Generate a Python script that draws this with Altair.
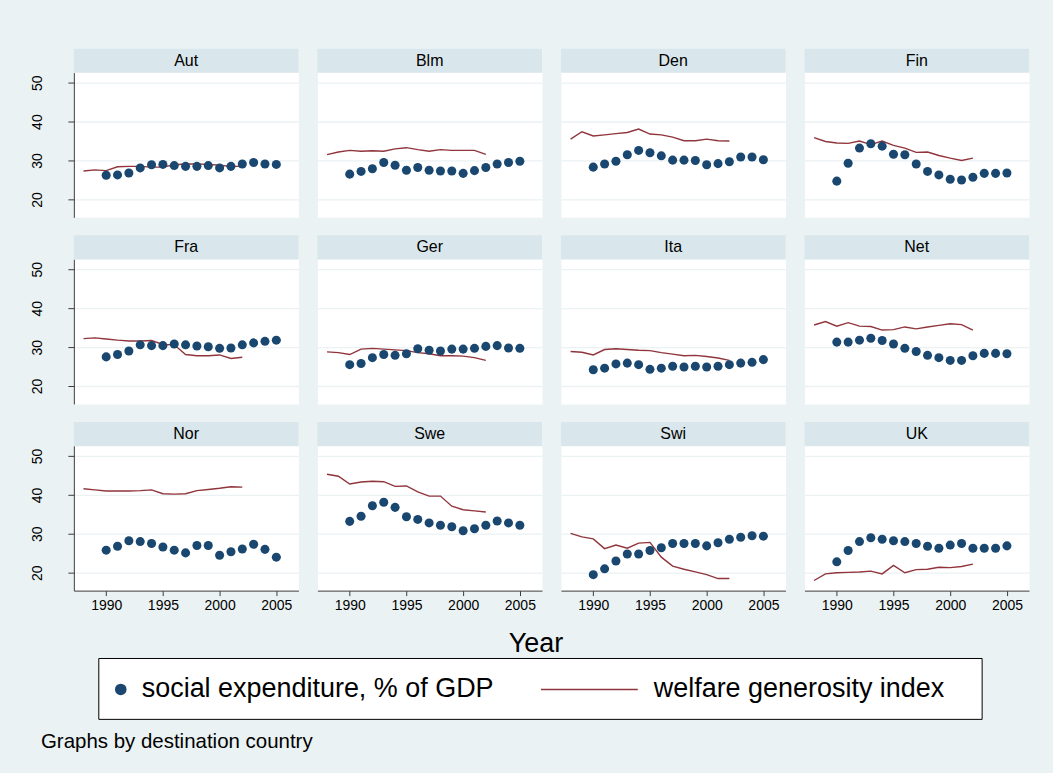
import altair as alt
import pandas as pd

# ---- data -------------------------------------------------------------
countries = ["Aut", "Blm", "Den", "Fin", "Fra", "Ger", "Ita", "Net",
             "Nor", "Swe", "Swi", "UK"]

years_social = [1990, 1991, 1992, 1993, 1994, 1995, 1996, 1997,
                1998, 1999, 2000, 2001, 2002, 2003, 2004, 2005]
years_welfare = [1988, 1989, 1990, 1991, 1992, 1993, 1994, 1995,
                 1996, 1997, 1998, 1999, 2000, 2001, 2002]

# social expenditure, % of GDP (1990-2005)
se_aut = [26.2, 26.3, 26.8, 28.1, 28.9, 29.0, 28.7, 28.5, 28.5, 28.7, 28.1, 28.5, 29.1, 29.5, 29.1, 29.0]
se_blm = [26.5, 27.2, 27.9, 29.5, 28.8, 27.5, 28.2, 27.5, 27.3, 27.3, 26.7, 27.4, 28.2, 29.1, 29.5, 29.8]
se_den = [28.3, 29.1, 29.8, 31.5, 32.6, 32.0, 31.2, 30.1, 30.1, 30.0, 28.9, 29.2, 29.7, 30.9, 30.9, 30.2]
se_fin = [24.7, 29.3, 33.2, 34.3, 33.7, 31.6, 31.5, 29.1, 27.2, 26.3, 25.2, 25.0, 25.7, 26.7, 26.7, 26.8]
se_fra = [27.5, 28.1, 29.0, 30.6, 30.4, 30.4, 30.8, 30.6, 30.3, 30.1, 29.7, 29.8, 30.6, 31.1, 31.5, 31.8]
se_ger = [25.5, 25.8, 27.3, 28.1, 27.9, 28.3, 29.6, 29.2, 29.0, 29.5, 29.5, 29.7, 30.2, 30.4, 29.8, 29.7]
se_ita = [24.2, 24.6, 25.7, 25.9, 25.5, 24.3, 24.6, 25.1, 24.9, 25.1, 24.9, 25.1, 25.5, 25.9, 26.1, 26.8]
se_net = [31.3, 31.3, 31.8, 32.3, 31.7, 30.8, 29.7, 28.9, 27.9, 27.3, 26.6, 26.6, 27.8, 28.4, 28.4, 28.3]
se_nor = [25.8, 26.8, 28.2, 28.0, 27.5, 26.6, 25.8, 25.1, 27.0, 27.0, 24.5, 25.4, 26.1, 27.3, 26.0, 24.0]
se_swe = [33.2, 34.5, 37.2, 38.1, 36.8, 34.4, 33.7, 32.8, 32.2, 31.8, 30.8, 31.3, 32.2, 33.3, 32.8, 32.2]
se_swi = [19.5, 21.0, 23.0, 24.8, 24.8, 25.7, 26.4, 27.5, 27.5, 27.5, 26.9, 27.7, 28.6, 29.1, 29.5, 29.4]
se_uk = [22.8, 25.7, 28.0, 29.0, 28.6, 28.2, 28.0, 27.5, 26.8, 26.3, 27.1, 27.5, 26.3, 26.3, 26.3, 26.9]

# welfare generosity index (1988-2002)
wg_aut = [27.3, 27.6, 27.4, 28.4, 28.5, 28.5, 28.3, 28.3, 28.9, 29.1, 29.1, 29.0, 28.8, 28.5, 28.5]
wg_blm = [31.5, 32.2, 32.6, 32.4, 32.5, 32.4, 33.0, 33.3, 32.8, 32.4, 32.8, 32.6, 32.6, 32.6, 31.6]
wg_den = [35.5, 37.4, 36.3, 36.6, 36.9, 37.2, 38.1, 36.8, 36.6, 36.0, 35.1, 35.1, 35.5, 35.1, 35.0]
wg_fin = [35.9, 34.9, 34.5, 34.4, 35.0, 34.1, 35.0, 33.9, 33.2, 32.1, 32.2, 31.3, 30.6, 30.0, 30.6]
wg_fra = [32.2, 32.4, 32.1, 31.8, 31.6, 31.6, 31.7, 30.7, 30.6, 28.1, 27.8, 27.8, 28.0, 27.1, 27.4]
wg_ger = [28.8, 28.6, 28.1, 29.5, 29.7, 29.5, 29.3, 29.1, 28.6, 28.3, 27.8, 27.8, 27.7, 27.3, 26.6]
wg_ita = [28.9, 28.7, 28.0, 29.4, 29.6, 29.4, 29.2, 29.1, 28.6, 28.2, 27.8, 27.9, 27.6, 27.2, 26.6]
wg_net = [35.7, 36.6, 35.4, 36.3, 35.4, 35.3, 34.4, 34.5, 35.2, 34.7, 35.2, 35.6, 36.0, 35.8, 34.4]
wg_nor = [41.6, 41.3, 41.0, 41.0, 41.0, 41.1, 41.3, 40.3, 40.2, 40.3, 41.1, 41.4, 41.7, 42.1, 42.0]
wg_swe = [45.3, 44.8, 42.8, 43.3, 43.5, 43.4, 42.2, 42.3, 40.8, 39.7, 39.7, 37.1, 36.2, 35.9, 35.6]
wg_swi = [30.1, 29.2, 28.7, 26.2, 27.1, 26.3, 27.6, 27.8, 24.0, 21.7, 20.9, 20.2, 19.5, 18.5, 18.5]
wg_uk = [18.0, 19.7, 20.0, 20.1, 20.2, 20.4, 19.7, 21.9, 20.0, 20.8, 20.9, 21.4, 21.3, 21.6, 22.2]

social_series = [se_aut, se_blm, se_den, se_fin, se_fra, se_ger,
                 se_ita, se_net, se_nor, se_swe, se_swi, se_uk]
welfare_series = [wg_aut, wg_blm, wg_den, wg_fin, wg_fra, wg_ger,
                  wg_ita, wg_net, wg_nor, wg_swe, wg_swi, wg_uk]

legend_labels = ["social expenditure, % of GDP", "welfare generosity index"]
x_title = "Year"
note_text = "Graphs by destination country"
x_ticks = [1990, 1995, 2000, 2005]
y_ticks = [20, 30, 40, 50]

# ---- styling ----------------------------------------------------------
FONT = "Liberation Sans"
BG = "#eaf2f3"
STRIP_FILL = "#d9e6eb"
GRID = "#eaf2f3"
AXIS_COLOR = "#3c3c3c"
DOT = "#1a476f"
LINE = "#90353b"

W, H = 225, 145
STRIP = 24
X_DOMAIN = [1987.15, 2006.95]
Y_DOMAIN = [15.4, 52.6]


def panel(name, social, welfare, left, bottom):
    d_se = pd.DataFrame({"year": years_social, "value": social})
    d_wg = pd.DataFrame({"year": years_welfare, "value": welfare})

    xscale = alt.Scale(domain=X_DOMAIN, nice=False, zero=False)
    yscale = alt.Scale(domain=Y_DOMAIN, nice=False, zero=False)

    if bottom:
        xaxis = alt.Axis(values=x_ticks, format="d", title="", grid=False,
                         domain=True, domainColor=AXIS_COLOR, ticks=True,
                         tickColor=AXIS_COLOR, tickSize=5, labelFontSize=14,
                         labelPadding=3, labelColor="black", labelFont=FONT)
    else:
        xaxis = None

    yaxis = alt.Axis(values=y_ticks, title="", grid=True, gridColor=GRID,
                     gridWidth=1.3, domain=left, domainColor=AXIS_COLOR,
                     ticks=left, tickColor=AXIS_COLOR, tickSize=6,
                     labels=left, labelAngle=270, labelAlign="center",
                     labelBaseline="top", labelPadding=37,
                     labelFontSize=14, labelColor="black", labelFont=FONT)

    x = alt.X("year:Q", scale=xscale, axis=xaxis)
    y = alt.Y("value:Q", scale=yscale, axis=yaxis)

    strip_data = alt.Data(values=[{"label": name}])
    strip = alt.Chart(strip_data).mark_rect(color=STRIP_FILL).encode(
        x=alt.value(0), x2=alt.value(W),
        y=alt.value(-STRIP), y2=alt.value(0))
    strip_text = alt.Chart(strip_data).mark_text(
        font=FONT, fontSize=16, color="black", align="center",
        baseline="middle").encode(
        x=alt.value(W / 2), y=alt.value(-STRIP / 2), text="label:N")

    line = alt.Chart(d_wg).mark_line(color=LINE, strokeWidth=1.4).encode(x=x, y=y)
    dots = alt.Chart(d_se).mark_circle(color=DOT, size=82, opacity=1).encode(x=x, y=y)

    return alt.layer(strip, strip_text, line, dots).properties(
        width=W, height=H,
        view=alt.ViewBackground(fill="white", stroke="transparent"))


rows = []
for r in range(3):
    cells = []
    for c in range(4):
        i = r * 4 + c
        cells.append(panel(countries[i], social_series[i], welfare_series[i],
                           left=(c == 0), bottom=(r == 2)))
    rows.append(alt.hconcat(*cells, spacing=17))

# ---- footer: axis title, legend box, note ----------------------------
# the footer's origin sits on the left edge of the first column's plot area
FW, FH = 955, 100
one = alt.Data(values=[{"a": 1}])

year_title = alt.Chart(alt.Data(values=[{"t": x_title}])).mark_text(
    font=FONT, fontSize=27, color="black", align="center", baseline="middle"
).encode(x=alt.value(463), y=alt.value(0), text="t:N")

legend_box = alt.Chart(one).mark_rect(
    fill="white", stroke="black", strokeWidth=1).encode(
    x=alt.value(25), x2=alt.value(910), y=alt.value(14), y2=alt.value(75))

legend_dot = alt.Chart(one).mark_circle(color=DOT, size=135, opacity=1).encode(
    x=alt.value(47), y=alt.value(45))

legend_rule = alt.Chart(one).mark_rule(color=LINE, strokeWidth=1.5).encode(
    x=alt.value(468), x2=alt.value(565), y=alt.value(45))

legend_text1 = alt.Chart(alt.Data(values=[{"t": legend_labels[0]}])).mark_text(
    font=FONT, fontSize=27, color="black", align="left", baseline="middle"
).encode(x=alt.value(68), y=alt.value(45), text="t:N")

legend_text2 = alt.Chart(alt.Data(values=[{"t": legend_labels[1]}])).mark_text(
    font=FONT, fontSize=27, color="black", align="left", baseline="middle"
).encode(x=alt.value(581), y=alt.value(45), text="t:N")

note = alt.Chart(alt.Data(values=[{"t": note_text}])).mark_text(
    font=FONT, fontSize=20.5, color="black", align="left", baseline="middle"
).encode(x=alt.value(-33), y=alt.value(98), text="t:N")

footer = alt.layer(year_title, legend_box, legend_dot, legend_rule,
                   legend_text1, legend_text2, note).properties(width=FW, height=FH)

chart = alt.vconcat(*rows, footer, spacing=16).properties(
    padding={"left": 30, "top": 47, "right": 23, "bottom": 20}
).configure(background=BG, font=FONT).configure_view(stroke="transparent")

chart.save("out.html", embed_options={"renderer": "svg", "actions": False})
